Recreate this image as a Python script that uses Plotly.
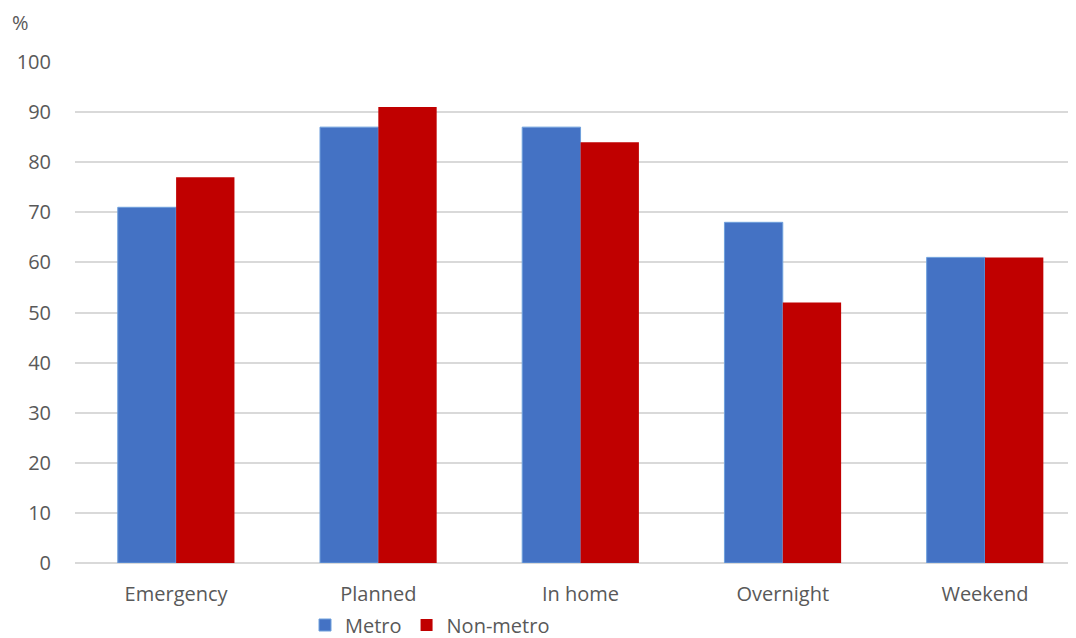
import plotly.graph_objects as go

categories = ["Emergency", "Planned", "In home", "Overnight", "Weekend"]
metro = [71, 87, 87, 68, 61]
non_metro = [77, 91, 84, 52, 61]
y_ticks = [0, 10, 20, 30, 40, 50, 60, 70, 80, 90, 100]

FONT = "Open Sans"
FS = 20
W, H = 1068, 630  # page body has an 8px margin
L, T, B = 67, 54, 75

fig = go.Figure()
fig.add_trace(go.Bar(
    x=categories, y=metro, name="Metro",
    marker=dict(color="#4472C4", line=dict(color="#6FA0DC", width=1)),
))
fig.add_trace(go.Bar(
    x=categories, y=non_metro, name="Non-metro",
    marker=dict(color="#C00000", line=dict(color="#C00000", width=0)),
))

plot_w = W - L
plot_h = H - T - B
fig.update_layout(
    width=W, height=H,
    margin=dict(l=L, r=0, t=T, b=B, pad=0, autoexpand=False),
    paper_bgcolor="white", plot_bgcolor="white",
    barmode="group", bargap=0.423, bargroupgap=0,
    font=dict(family=FONT, size=FS, color="#595959"),
    showlegend=True,
    legend=dict(
        orientation="h", x=(297 - L) / plot_w, xanchor="left",
        yref="container", y=1 - 617 / H, yanchor="middle",
        font=dict(family=FONT, size=20, color="#595959"),
        itemwidth=30, tracegroupgap=0,
    ),
    annotations=[dict(
        text="%", xref="paper", yref="paper",
        x=(12 - L) / plot_w, y=1 + (T - 14) / plot_h,
        showarrow=False, xanchor="center", yanchor="middle",
        font=dict(family=FONT, size=FS, color="#595959"),
    )],
)
fig.update_xaxes(
    range=[-0.5, 4.45], showgrid=False,
    showline=False, ticks="outside", ticklen=13, tickcolor="rgba(0,0,0,0)",
    tickfont=dict(family=FONT, size=FS, color="#595959"),
)
fig.update_yaxes(
    range=[0, 100], tickvals=y_ticks,
    showgrid=True, gridcolor="#D9D9D9", gridwidth=1.5,
    zeroline=True, zerolinecolor="#D9D9D9", zerolinewidth=1.5,
    showline=False, ticks="outside", ticklen=19, tickcolor="rgba(0,0,0,0)",
    tickfont=dict(family=FONT, size=FS, color="#595959"),
)

fig.write_html("out.html")
